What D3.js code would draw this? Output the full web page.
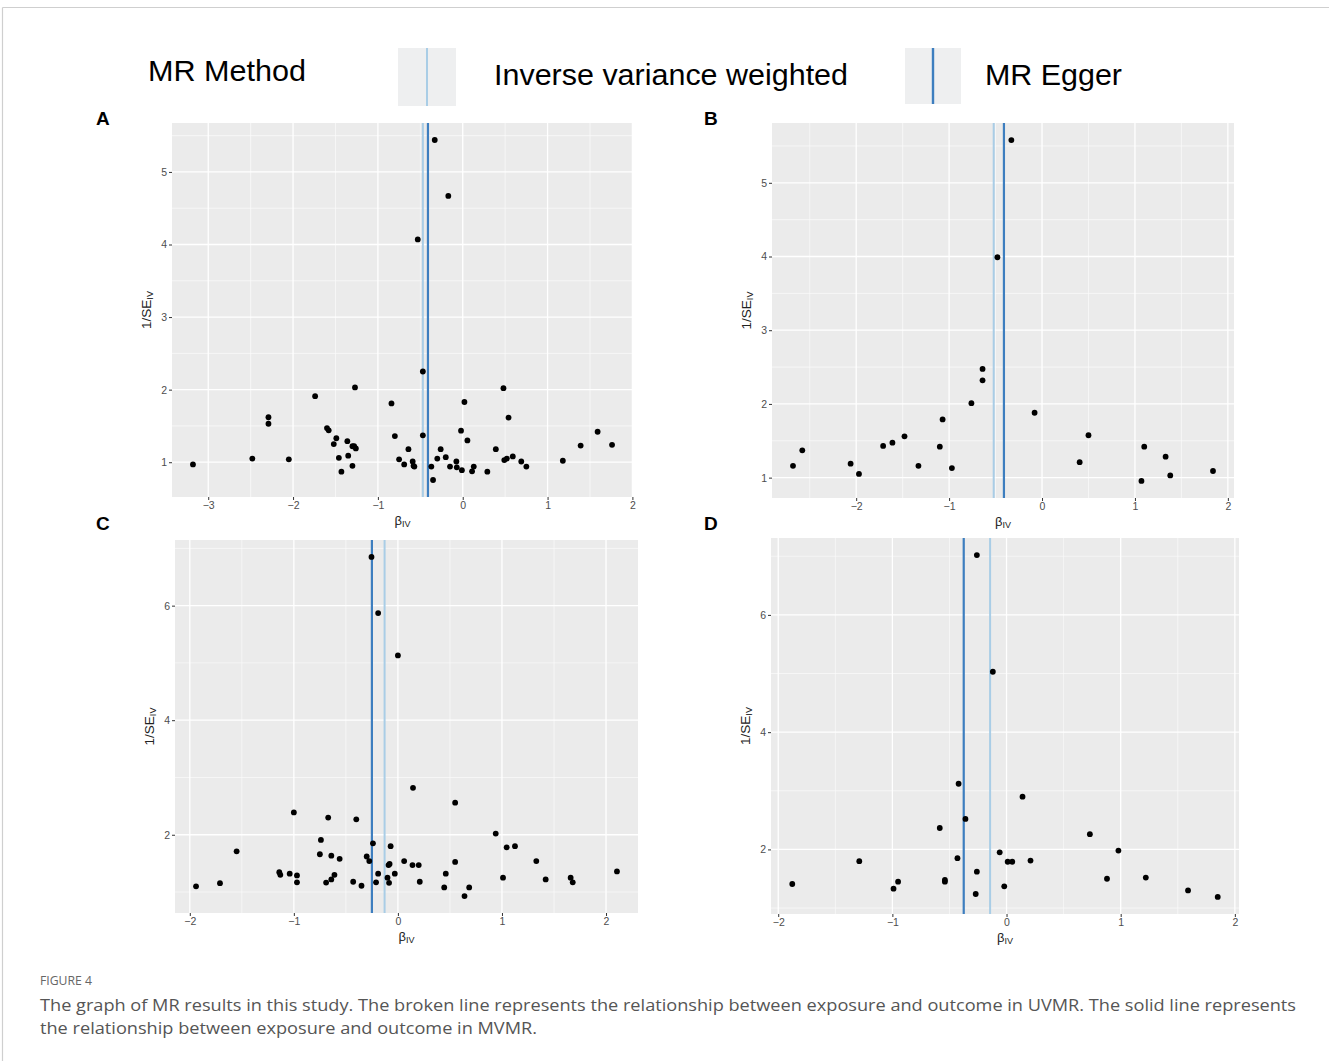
<!DOCTYPE html>
<html>
<head>
<meta charset="utf-8">
<script src="https://cdn.jsdelivr.net/npm/d3@7"></script>
<style>
  html, body { margin: 0; padding: 0; background: #ffffff; }
  svg { display: block; }
</style>
</head>
<body>
<div id="chart"></div>
<script>
// ---------------- DATA ----------------
const panelLabels = ["A", "B", "C", "D"];

// Panel A
const betaA = [-3.18, -2.48, -2.29, -2.29, -2.05, -1.74, -1.60, -1.58, -1.49, -1.52, -1.46, -1.43, -1.36, -1.35,
  -1.30, -1.30, -1.27, -1.28, -1.26, -0.84, -0.80, -0.75, -0.69, -0.64, -0.59, -0.58, -0.57, -0.53, -0.47, -0.47,
  -0.37, -0.35, -0.33, -0.30, -0.26, -0.20, -0.17, -0.15, -0.075, -0.07, -0.02, -0.01, 0.02, 0.055, 0.11, 0.13,
  0.29, 0.39, 0.48, 0.49, 0.52, 0.54, 0.59, 0.69, 0.75, 1.18, 1.39, 1.59, 1.76];
const invSeA = [0.97, 1.05, 1.62, 1.53, 1.04, 1.91, 1.47, 1.44, 1.33, 1.25, 1.06, 0.87, 1.29, 1.09,
  1.22, 0.95, 2.03, 1.22, 1.19, 1.81, 1.36, 1.04, 0.97, 1.18, 1.01, 0.95, 0.94, 4.07, 2.25, 1.37,
  0.94, 0.755, 5.44, 1.05, 1.18, 1.07, 4.67, 0.94, 1.01, 0.93, 1.435, 0.89, 1.83, 1.30, 0.875, 0.94,
  0.87, 1.18, 2.02, 1.03, 1.05, 1.615, 1.08, 1.01, 0.94, 1.02, 1.23, 1.42, 1.24];

// Panel B
const betaB = [-2.68, -2.58, -2.06, -1.97, -1.71, -1.61, -1.48, -1.33, -1.10, -1.07, -0.97, -0.76, -0.64, -0.64,
  -0.48, -0.33, -0.08, 0.405, 0.50, 1.07, 1.10, 1.33, 1.38, 1.84];
const invSeB = [1.16, 1.37, 1.19, 1.05, 1.43, 1.475, 1.56, 1.16, 1.42, 1.79, 1.13, 2.01, 2.32, 2.475,
  3.99, 5.58, 1.88, 1.21, 1.575, 0.955, 1.42, 1.285, 1.03, 1.09];

// Panel C
const betaC = [-1.94, -1.71, -1.55, -1.14, -1.13, -1.04, -1.00, -0.97, -0.97, -0.74, -0.75, -0.69, -0.67, -0.64,
  -0.64, -0.61, -0.56, -0.43, -0.40, -0.35, -0.30, -0.275, -0.24, -0.21, -0.19, -0.10, -0.09, -0.08, -0.085,
  -0.07, -0.03, 0.06, 0.14, 0.145, 0.20, 0.21, 0.445, 0.46, 0.55, 0.55, 0.64, 0.685, 0.94, 1.01, 1.045, 1.125,
  1.33, 1.42, 1.66, 1.68, 2.105, -0.254, -0.19, 0.0];
const invSeC = [1.10, 1.155, 1.71, 1.345, 1.30, 1.32, 2.39, 1.29, 1.17, 1.91, 1.66, 1.165, 2.30, 1.22,
  1.635, 1.30, 1.58, 1.18, 2.27, 1.11, 1.62, 1.54, 1.85, 1.17, 1.32, 1.25, 1.47, 1.49, 1.16,
  1.80, 1.32, 1.54, 1.47, 2.82, 1.47, 1.18, 1.08, 1.32, 1.525, 2.56, 0.93, 1.08, 2.02, 1.25, 1.78, 1.80,
  1.54, 1.22, 1.25, 1.17, 1.36, 6.85, 5.87, 5.13];

// Panel D
const betaD = [-1.877, -1.29, -0.99, -0.95, -0.54, -0.54, -0.585, -0.43, -0.42, -0.36, -0.26, -0.27, -0.06, -0.02,
  0.01, 0.05, 0.21, 0.14, 0.73, 0.88, 0.98, 1.22, 1.59, 1.85, -0.26, -0.12];
const invSeD = [1.41, 1.80, 1.33, 1.45, 1.48, 1.45, 2.365, 1.85, 3.12, 2.52, 1.62, 1.24, 1.95, 1.37,
  1.79, 1.79, 1.81, 2.90, 2.26, 1.50, 1.98, 1.52, 1.30, 1.19, 7.02, 5.03];

// Method estimates (vertical lines)
const ivwEstimate   = [-0.47, -0.52, -0.128, -0.144];
const eggerEstimate = [-0.41, -0.41, -0.25, -0.375];

// Tick labels
const xTicksA = [-3, -2, -1, 0, 1, 2];
const xTicksB = [-2, -1, 0, 1, 2];
const xTicksC = [-2, -1, 0, 1, 2];
const xTicksD = [-2, -1, 0, 1, 2];
const yTicksA = [1, 2, 3, 4, 5];
const yTicksB = [1, 2, 3, 4, 5];
const yTicksC = [2, 4, 6];
const yTicksD = [2, 4, 6];

const legendTitle = "MR Method";
const methodNames = ["Inverse variance weighted", "MR Egger"];
const captionHead = "FIGURE 4";
const captionLines = [
  "The graph of MR results in this study. The broken line represents the relationship between exposure and outcome in UVMR. The solid line represents",
  "the relationship between exposure and outcome in MVMR."
];

// ---------------- LAYOUT / STYLE ----------------
const W = 1329, H = 1061;
const FONT = "'Liberation Sans', Arial, Helvetica, sans-serif";
const ivwColor = "#a9cde6";
const eggerColor = "#3d7ebf";

const panels = [
  { label: panelLabels[0], beta: betaA, inv: invSeA, xt: xTicksA, yt: yTicksA, box: [172, 633, 123, 497], labelPos: [96, 125] },
  { label: panelLabels[1], beta: betaB, inv: invSeB, xt: xTicksB, yt: yTicksB, box: [772, 1234, 123, 498], labelPos: [704, 125] },
  { label: panelLabels[2], beta: betaC, inv: invSeC, xt: xTicksC, yt: yTicksC, box: [175, 638, 540, 913], labelPos: [96, 530] },
  { label: panelLabels[3], beta: betaD, inv: invSeD, xt: xTicksD, yt: yTicksD, box: [771, 1239, 538, 914], labelPos: [704, 530] }
];

const svg = d3.select("#chart").append("svg")
  .attr("width", W).attr("height", H)
  .attr("font-family", FONT);

svg.append("rect").attr("width", W).attr("height", H).attr("fill", "#ffffff");

// outer frame lines
svg.append("line").attr("x1", 2.5).attr("x2", W).attr("y1", 7.5).attr("y2", 7.5)
  .attr("stroke", "#cfcfcf").attr("stroke-width", 1.2);
svg.append("line").attr("x1", 2.5).attr("x2", 2.5).attr("y1", 7.5).attr("y2", H)
  .attr("stroke", "#cfcfcf").attr("stroke-width", 1.2);

// ---------------- LEGEND ----------------
svg.append("text").attr("x", 148).attr("y", 81)
  .attr("font-size", 30).attr("fill", "#000")
  .attr("textLength", 158).attr("lengthAdjust", "spacingAndGlyphs").text(legendTitle);

const legendKeys = [
  { name: methodNames[0], color: ivwColor, width: 2, box: [398, 48, 58, 58], tx: 494, tw: 354 },
  { name: methodNames[1], color: eggerColor, width: 2.4, box: [905, 48, 56, 56], tx: 985, tw: 137 }
];
legendKeys.forEach(k => {
  svg.append("rect").attr("x", k.box[0]).attr("y", k.box[1]).attr("width", k.box[2]).attr("height", k.box[3])
    .attr("fill", "#eeeff0");
  const cx = k.box[0] + k.box[2] / 2;
  svg.append("line").attr("x1", cx).attr("x2", cx).attr("y1", k.box[1]).attr("y2", k.box[1] + k.box[3])
    .attr("stroke", k.color).attr("stroke-width", k.width);
  svg.append("text").attr("x", k.tx).attr("y", 85).attr("font-size", 30).attr("fill", "#000")
    .attr("textLength", k.tw).attr("lengthAdjust", "spacingAndGlyphs").text(k.name);
});

// ---------------- PANELS ----------------
function expand(ext, f) {
  const r = ext[1] - ext[0];
  return [ext[0] - r * f, ext[1] + r * f];
}
function minorBreaks(major, domain) {
  const step = major[1] - major[0];
  const out = [];
  for (let v = major[0] - step / 2; v <= major[major.length - 1] + step; v += step) {
    if (v >= domain[0] && v <= domain[1]) out.push(v);
  }
  return out;
}

panels.forEach((p, i) => {
  const [x0, x1, y0, y1] = p.box;
  const xDom = expand(d3.extent(p.beta.concat([ivwEstimate[i], eggerEstimate[i]])), 0.05);
  const yDom = expand(d3.extent(p.inv), 0.05);
  const x = d3.scaleLinear().domain(xDom).range([x0, x1]);
  const y = d3.scaleLinear().domain(yDom).range([y1, y0]);

  const g = svg.append("g");
  // panel background
  g.append("rect").attr("x", x0).attr("y", y0).attr("width", x1 - x0).attr("height", y1 - y0)
    .attr("fill", "#ebebeb");

  // minor grid
  minorBreaks(p.xt, xDom).forEach(v => {
    g.append("line").attr("x1", x(v)).attr("x2", x(v)).attr("y1", y0).attr("y2", y1)
      .attr("stroke", "#fafafa").attr("stroke-width", 0.7);
  });
  minorBreaks(p.yt, yDom).forEach(v => {
    g.append("line").attr("x1", x0).attr("x2", x1).attr("y1", y(v)).attr("y2", y(v))
      .attr("stroke", "#fafafa").attr("stroke-width", 0.7);
  });
  // major grid
  p.xt.forEach(v => {
    g.append("line").attr("x1", x(v)).attr("x2", x(v)).attr("y1", y0).attr("y2", y1)
      .attr("stroke", "#ffffff").attr("stroke-width", 1.3);
  });
  p.yt.forEach(v => {
    g.append("line").attr("x1", x0).attr("x2", x1).attr("y1", y(v)).attr("y2", y(v))
      .attr("stroke", "#ffffff").attr("stroke-width", 1.3);
  });

  // vertical method lines
  g.append("line").attr("x1", x(ivwEstimate[i])).attr("x2", x(ivwEstimate[i])).attr("y1", y0).attr("y2", y1)
    .attr("stroke", ivwColor).attr("stroke-width", 2);
  g.append("line").attr("x1", x(eggerEstimate[i])).attr("x2", x(eggerEstimate[i])).attr("y1", y0).attr("y2", y1)
    .attr("stroke", eggerColor).attr("stroke-width", 2.2);

  // points
  g.selectAll("circle.pt").data(p.beta.map((b, j) => [b, p.inv[j]])).enter()
    .append("circle").attr("class", "pt")
    .attr("cx", d => x(d[0])).attr("cy", d => y(d[1])).attr("r", 2.9)
    .attr("fill", "#000");

  // axes
  const xAxis = d3.axisBottom(x).tickValues(p.xt).tickSize(3).tickPadding(2)
    .tickFormat(d => d3.format("d")(d).replace("-", "\u2212"));
  const ax = g.append("g").attr("transform", `translate(0,${y1})`).call(xAxis);
  const yAxis = d3.axisLeft(y).tickValues(p.yt).tickSize(3).tickPadding(2)
    .tickFormat(d3.format("d"));
  const ay = g.append("g").attr("transform", `translate(${x0},0)`).call(yAxis);
  [ax, ay].forEach(a => {
    a.select(".domain").remove();
    a.selectAll(".tick line").attr("stroke", "#333333").attr("stroke-width", 1);
    a.selectAll(".tick text").attr("fill", "#4d4d4d").attr("font-size", 10.5).attr("font-family", FONT);
  });

  // x title: beta_IV
  const xt = g.append("text").attr("x", (x0 + x1) / 2).attr("y", y1 + 28)
    .attr("text-anchor", "middle").attr("font-size", 13).attr("fill", "#222");
  xt.append("tspan").text("\u03B2");
  xt.append("tspan").attr("font-size", 9).attr("dy", 2).text("IV");

  // y title: 1/SE_IV
  const yc = (y0 + y1) / 2;
  const ytt = g.append("text").attr("transform", `translate(${x0 - 21},${yc}) rotate(-90)`)
    .attr("text-anchor", "middle").attr("font-size", 13.5).attr("fill", "#222");
  ytt.append("tspan").text("1/SE");
  ytt.append("tspan").attr("font-size", 9).attr("dy", 2).text("IV");

  // panel label
  svg.append("text").attr("x", p.labelPos[0]).attr("y", p.labelPos[1])
    .attr("font-size", 19).attr("font-weight", "bold").attr("fill", "#000").text(p.label);
});

// ---------------- CAPTION ----------------
const CAPFONT = "'Open Sans', 'Noto Sans', sans-serif";
svg.append("text").attr("x", 40).attr("y", 985).attr("font-family", CAPFONT)
  .attr("font-size", 12).attr("fill", "#666").attr("textLength", 52).attr("lengthAdjust", "spacingAndGlyphs")
  .text(captionHead);
svg.append("text").attr("x", 40).attr("y", 1011).attr("font-family", CAPFONT)
  .attr("font-size", 16).attr("fill", "#555").attr("textLength", 1256).attr("lengthAdjust", "spacingAndGlyphs")
  .text(captionLines[0]);
svg.append("text").attr("x", 40).attr("y", 1034).attr("font-family", CAPFONT)
  .attr("font-size", 16).attr("fill", "#555").attr("textLength", 497).attr("lengthAdjust", "spacingAndGlyphs")
  .text(captionLines[1]);
</script>
</body>
</html>
